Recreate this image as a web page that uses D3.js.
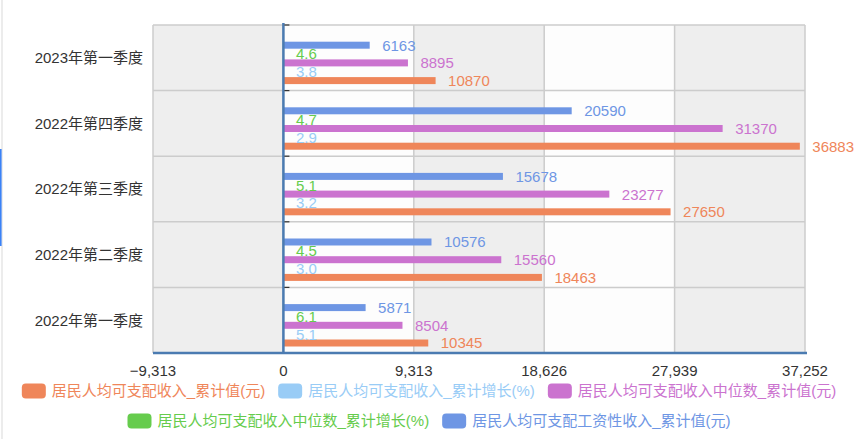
<!DOCTYPE html>
<html>
<head>
<meta charset="utf-8">
<script src="https://cdn.jsdelivr.net/npm/d3@7"></script>
<style>
  body { margin: 0; background: #fff; }
  svg text { font-family: "Liberation Sans", Arial, "Noto Sans CJK SC", sans-serif; }
</style>
</head>
<body>
<svg id="chart" width="864" height="439"></svg>
<script>
// categories top to bottom
const categories = ['2023年第一季度', '2022年第四季度', '2022年第三季度', '2022年第二季度', '2022年第一季度'];

const seriesNames = [
  '居民人均可支配收入_累计值(元)',
  '居民人均可支配收入_累计增长(%)',
  '居民人均可支配收入中位数_累计值(元)',
  '居民人均可支配收入中位数_累计增长(%)',
  '居民人均可支配工资性收入_累计值(元)'
];
const seriesColors = ['#ef865a', '#99ccf6', '#cb73cf', '#66cc4d', '#6e96e4'];

// values per category, same order as categories
const incomeTotal = [10870, 36883, 27650, 18463, 10345];
const incomeGrowth = [3.8, 2.9, 3.2, 3.0, 5.1];
const medianTotal = [8895, 31370, 23277, 15560, 8504];
const medianGrowth = [4.6, 4.7, 5.1, 4.5, 6.1];
const wageTotal = [6163, 20590, 15678, 10576, 5871];

const xTicks = [-9313, 0, 9313, 18626, 27939, 37252];

const seriesData = [incomeTotal, incomeGrowth, medianTotal, medianGrowth, wageTotal];
const isPct = [false, true, false, true, false];

const svg = d3.select('#chart');

const plotLeft = 153, plotRight = 805, plotTop = 25, plotBottom = 353;

const x = d3.scaleLinear().domain([xTicks[0], xTicks[xTicks.length - 1]]).range([plotLeft, plotRight]);
const y = d3.scaleBand().domain(categories).range([plotTop, plotBottom]).padding(0);
// series inside a category band, top slot is the last series
const ys = d3.scaleBand()
  .domain(d3.range(seriesNames.length).reverse())
  .range([16.7, 59.1])
  .paddingInner(0.21)
  .paddingOuter(0);

// page edge artefacts
svg.append('line').attr('x1', 2).attr('x2', 2).attr('y1', 0).attr('y2', 439)
  .attr('stroke', '#e6e6e6').attr('stroke-width', 1.5);
svg.append('line').attr('x1', 0.8).attr('x2', 0.8).attr('y1', 149).attr('y2', 246)
  .attr('stroke', '#3b82f6').attr('stroke-width', 1.6);

// striped background columns
const cols = d3.pairs(xTicks);
svg.append('g').selectAll('rect').data(cols).join('rect')
  .attr('x', d => x(d[0]))
  .attr('width', d => x(d[1]) - x(d[0]))
  .attr('y', plotTop)
  .attr('height', plotBottom - plotTop)
  .attr('fill', (d, i) => i % 2 === 0 ? '#eeeeee' : '#fdfdfd');

// grid lines
const grid = svg.append('g').attr('stroke', '#cccccc').attr('stroke-width', 1.5);
grid.selectAll('.v').data(xTicks).join('line')
  .attr('class', 'v')
  .attr('x1', d => x(d)).attr('x2', d => x(d))
  .attr('y1', plotTop).attr('y2', plotBottom);
const bounds = categories.map(c => y(c)).concat([plotBottom]);
grid.selectAll('.h').data(bounds).join('line')
  .attr('class', 'h')
  .attr('x1', plotLeft).attr('x2', plotRight)
  .attr('y1', d => d).attr('y2', d => d);

// bars
const bars = svg.append('g');
seriesData.forEach((vals, si) => {
  const g = bars.append('g');
  g.selectAll('rect').data(vals).join('rect')
    .attr('x', x(0))
    .attr('y', (d, i) => y(categories[i]) + ys(si))
    .attr('width', d => Math.max(0, x(d) - x(0)))
    .attr('height', ys.bandwidth())
    .attr('fill', seriesColors[si]);
});

// value labels
const labels = svg.append('g').attr('font-size', 15);
seriesData.forEach((vals, si) => {
  labels.append('g').selectAll('text').data(vals).join('text')
    .attr('x', d => x(d) + 12.5)
    .attr('y', (d, i) => y(categories[i]) + ys(si) + ys.bandwidth() / 2)
    .attr('dy', '0.36em')
    .attr('fill', seriesColors[si])
    .text(d => isPct[si] ? d3.format('.1f')(d) : d);
});

// y axis at zero
const yAxis = svg.append('g');
yAxis.append('line')
  .attr('x1', x(0)).attr('x2', x(0)).attr('y1', plotTop - 2).attr('y2', plotBottom)
  .attr('stroke', '#4b7bb1').attr('stroke-width', 2.5);
yAxis.selectAll('.tk').data(bounds).join('line')
  .attr('class', 'tk')
  .attr('x1', x(0) + 1).attr('x2', x(0) + 6)
  .attr('y1', d => d).attr('y2', d => d)
  .attr('stroke', '#333').attr('stroke-width', 1.2);

// category labels
svg.append('g').attr('font-size', 15).attr('fill', '#333')
  .selectAll('text').data(categories).join('text')
  .attr('x', 143)
  .attr('y', d => y(d) + y.bandwidth() / 2)
  .attr('dy', '0.36em')
  .attr('text-anchor', 'end')
  .text(d => d);

// x axis
svg.append('line')
  .attr('x1', plotLeft).attr('x2', plotRight + 2).attr('y1', plotBottom).attr('y2', plotBottom)
  .attr('stroke', '#4b7bb1').attr('stroke-width', 2.5);
svg.append('g').attr('font-size', 15).attr('fill', '#333')
  .selectAll('text').data(xTicks).join('text')
  .attr('x', d => x(d))
  .attr('y', 376)
  .attr('text-anchor', 'middle')
  .text(d => d3.format(',')(d));

// legend
const legendRows = [[0, 1, 2], [3, 4]];
const legendY = [391, 421];
const legendCenter = 429;
legendRows.forEach((row, ri) => {
  const g = svg.append('g');
  let cx = 0;
  row.forEach(si => {
    const item = g.append('g').attr('transform', `translate(${cx},0)`);
    item.append('rect')
      .attr('x', 0).attr('y', legendY[ri] - 7.5)
      .attr('width', 24).attr('height', 15).attr('rx', 4)
      .attr('fill', seriesColors[si]);
    const t = item.append('text')
      .attr('x', 30).attr('y', legendY[ri])
      .attr('dy', '0.36em')
      .attr('font-size', 15)
      .attr('fill', seriesColors[si])
      .text(seriesNames[si]);
    cx += 30 + t.node().getComputedTextLength() + 13;
  });
  const w = cx - 13;
  g.attr('transform', `translate(${legendCenter - w / 2},0)`);
});
</script>
</body>
</html>
